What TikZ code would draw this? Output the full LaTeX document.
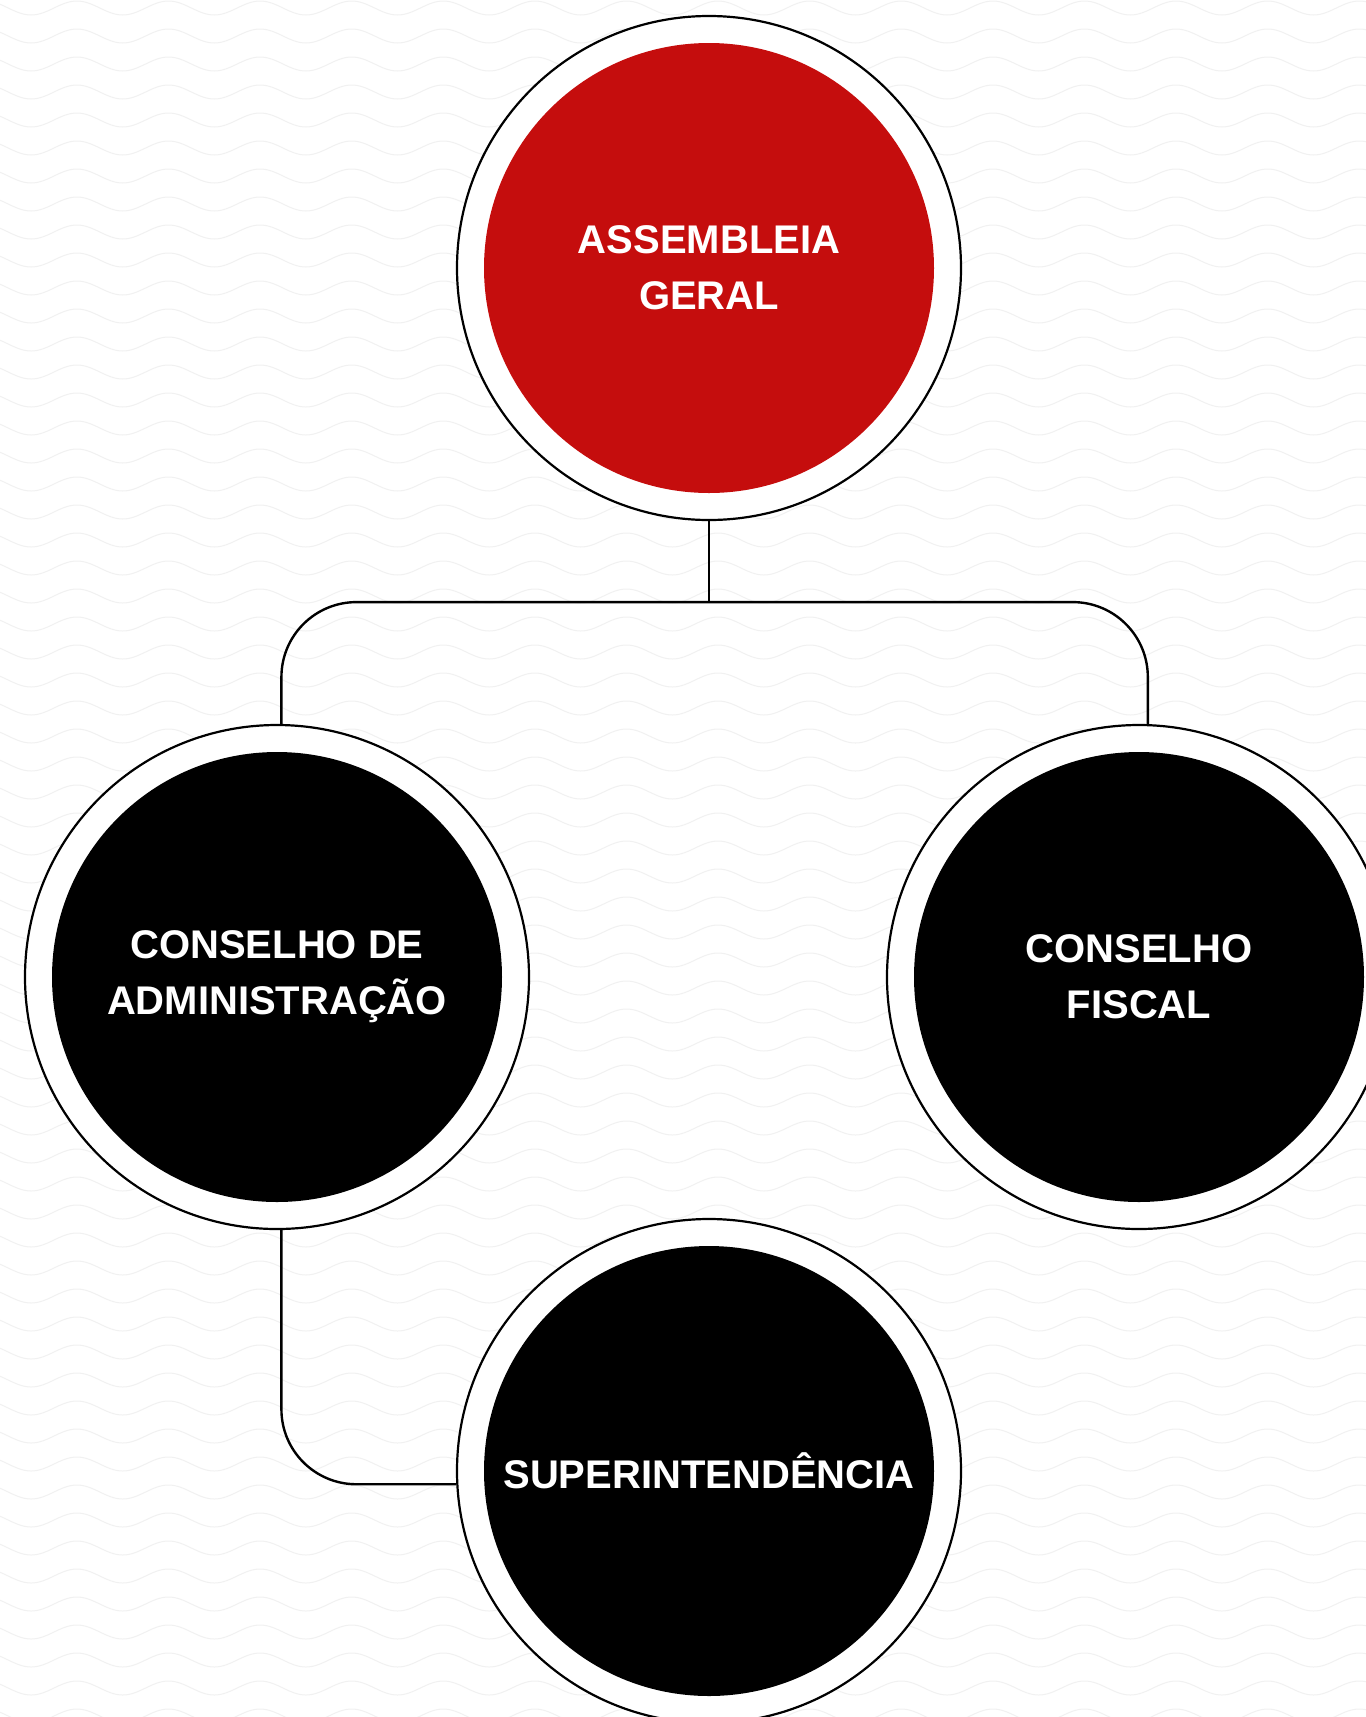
\documentclass[tikz,border=0pt]{standalone}
\usepackage{fontspec}
\setmainfont{Liberation Sans}
\usepackage{tikz}
\usetikzlibrary{positioning}
\definecolor{assred}{HTML}{C50D0D}
\definecolor{wavegray}{HTML}{F1F1F1}

\begin{document}
\begin{tikzpicture}[x=1pt,y=-1pt,
    organ/.style={circle, draw=black, line width=2.2pt, fill=white, minimum size=504pt, inner sep=0pt,
      text=white, font=\fontsize{40}{56}\selectfont\bfseries, align=center,
      path picture={\fill[#1] (path picture bounding box.center) circle (225pt);}},
    organ/.default=black,
    wave/.style={draw=wavegray, line width=1pt},
    link/.style={draw=black, line width=2.4pt, rounded corners=75pt}]
  \useasboundingbox (0,0) rectangle (1366,1717);
  \clip (0,0) rectangle (1366,1717);
  \fill[white] (0,0) rectangle (1366,1717);
  % wavy background
  \foreach \row in {0,...,61}
    \draw[wave] (-14.7,1+28*\row) \foreach \k in {0,...,15} {
      cos ++(22.9,7) sin ++(22.9,7) cos ++(22.9,-7) sin ++(22.9,-7) };

  \node[organ=assred] (assembleia) at (709,268) {ASSEMBLEIA\\GERAL};
  \node[organ] (administracao) at (277,977) {CONSELHO DE\\ADMINISTRAÇÃO};
  \node[organ] (fiscal) at (1139,977) {CONSELHO\\FISCAL};
  \node[organ] (superintendencia) at (709,1471) {SUPERINTENDÊNCIA};

  \coordinate[below=81pt of assembleia.south] (hub);
  \draw[link] (assembleia.south) -- (hub);
  \draw[link] (administracao.89) |- (hub) -| (fiscal.88);
  \draw[link] (administracao.-89) |- (superintendencia.183);
\end{tikzpicture}
\end{document}
